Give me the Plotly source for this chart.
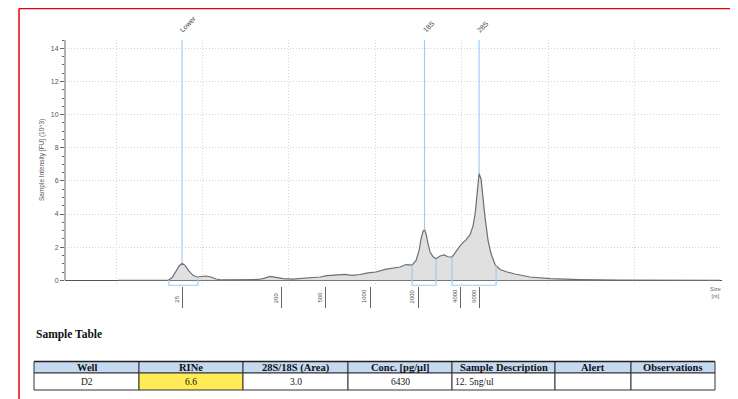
import numpy as np
import plotly.graph_objects as go

# ---------------- data ----------------
# electropherogram: migration position (arbitrary units) vs intensity (FU x 10^3)
position = [20.23, 26.02, 26.48, 26.94, 27.29, 27.64, 27.98, 28.45, 28.91, 29.37,
            29.83, 30.41, 30.99, 31.57, 32.26, 34.35, 36.43, 37.12, 37.82, 38.51,
            39.32, 40.36, 41.52, 42.68, 43.60, 44.41, 45.45, 46.50, 47.31, 48.23,
            49.16, 50.08, 51.12, 52.05, 52.86, 53.55, 54.25, 54.71, 55.06, 55.29,
            55.52, 55.69, 55.87, 56.10, 56.33, 56.68, 57.02, 57.49, 57.95, 58.41,
            58.88, 59.34, 59.92, 60.50, 60.96, 61.31, 61.54, 61.77, 62.00, 62.23,
            62.46, 62.69, 63.04, 63.39, 63.85, 64.43, 65.24, 66.16, 67.90, 70.21,
            73.69, 78.31, 89.88]
intensity = [0.0, 0.0, 0.15, 0.55, 0.85, 1.03, 0.90, 0.55, 0.30, 0.20,
             0.23, 0.26, 0.20, 0.08, 0.02, 0.02, 0.05, 0.12, 0.24, 0.18,
             0.10, 0.07, 0.12, 0.16, 0.20, 0.28, 0.30, 0.36, 0.30, 0.35,
             0.45, 0.50, 0.66, 0.75, 0.80, 0.95, 0.92, 1.20, 1.80, 2.50,
             2.95, 3.05, 2.80, 2.20, 1.70, 1.42, 1.30, 1.47, 1.53, 1.42,
             1.40, 1.75, 2.15, 2.45, 2.75, 3.30, 4.00, 5.20, 6.45, 6.10,
             4.90, 3.80, 2.40, 1.60, 0.95, 0.65, 0.50, 0.38, 0.20, 0.10,
             0.04, 0.01, 0.0]

marker_names = ["Lower", "18S", "28S"]
marker_pos = [27.64, 55.69, 62.00]
region_start = [26.13, 54.25, 58.88]
region_end = [29.49, 57.02, 63.97]

size_labels = ["25", "200", "500", "1000", "2000", "4000", "6000"]
size_pos = [27.65, 39.17, 44.18, 49.39, 54.98, 59.90, 62.10]

y_ticks = [0, 2, 4, 6, 8, 10, 12, 14]

table_columns = ["Well", "RINe", "28S/18S (Area)", "Conc. [pg/µl]",
                 "Sample Description", "Alert", "Observations"]
table_values = ["D2", "6.6", "3.0", "6430", "12. 5ng/ul", "", ""]
table_col_widths = [105, 104, 105, 104, 103, 76, 84]
table_cell_fill = ["white", "#ffeb55", "white", "white", "white", "white", "white"]
table_cell_align = ["center", "center", "center", "center", "left", "center", "center"]

# ---------------- layout geometry ----------------
# page body has an 8px margin: figure is placed at (8, 8) in the window
OFF = 8
W, H = 738 - OFF, 399 - OFF
X_RANGE = [14.1, 90.1]
Y_RANGE = [-0.35, 14.5]
px_x = lambda p: (p - OFF) / W
px_y = lambda p: 1 - (p - OFF) / H
dom_x = [px_x(65), px_x(722)]
dom_y = [px_y(286.1), px_y(40)]
bracket_y = -0.3

BLUE = "#9fcdf5"
GRAY = "#666666"
GRID = "#d4d4d4"
SANS = "Liberation Sans"
SERIF = "Liberation Serif"

fig = go.Figure()

# vertical grid overlay axis (invisible trace)
fig.add_trace(go.Scatter(x=X_RANGE, y=[0, 0], xaxis="x2", yaxis="y",
                         mode="lines", line=dict(width=0), hoverinfo="skip",
                         showlegend=False))

# profile
fig.add_trace(go.Scatter(x=position, y=intensity, mode="lines",
                         fill="tozeroy", fillcolor="#e0e0e0",
                         line=dict(color="#6f6f6f", width=1.2),
                         showlegend=False))

# marker lines and region brackets
for name, m, s, e in zip(marker_names, marker_pos, region_start, region_end):
    top = np.interp(m, position, intensity)
    fig.add_trace(go.Scatter(x=[m, m], y=[top, Y_RANGE[1]], mode="lines",
                             line=dict(color=BLUE, width=1.2), showlegend=False))
    ys = np.interp(s, position, intensity)
    ye = np.interp(e, position, intensity)
    fig.add_trace(go.Scatter(x=[s, s, e, e], y=[ys, bracket_y, bracket_y, ye],
                             mode="lines", line=dict(color=BLUE, width=1.2),
                             showlegend=False))
    fig.add_annotation(x=m, xref="x", y=px_y(36), yref="paper", text=name,
                       textangle=-45, xanchor="left", yanchor="bottom",
                       xshift=-6, showarrow=False,
                       font=dict(size=7, color="#444", family=SANS))

# size ladder labels
for lab, p in zip(size_labels, size_pos):
    fig.add_annotation(x=p, xref="x", y=px_y(305), yref="paper", text=lab,
                       textangle=-90, xanchor="right", yanchor="bottom",
                       xshift=-1, showarrow=False,
                       font=dict(size=6, color="#555", family=SANS))

fig.add_annotation(x=px_x(715), xref="paper", y=px_y(292.5), yref="paper",
                   text="Size<br>[nt]", showarrow=False, align="center",
                   xanchor="center", yanchor="middle",
                   font=dict(size=5.5, color="#666", family=SANS))

fig.add_annotation(x=px_x(42), xref="paper", y=px_y(160), yref="paper",
                   text="Sample Intensity [FU] (10^3)", textangle=-90,
                   xanchor="center", yanchor="middle", showarrow=False,
                   font=dict(size=6.5, color="#555", family=SANS))

fig.add_annotation(x=px_x(34), xref="paper", y=px_y(334), yref="paper",
                   text="<b>Sample Table</b>", xanchor="left", yanchor="middle",
                   showarrow=False,
                   font=dict(size=11.5, color="#111", family=SERIF))

# y axis line (from 0 to top)
fig.add_shape(type="line", xref="paper", yref="y", x0=dom_x[0], x1=dom_x[0],
              y0=0, y1=Y_RANGE[1], line=dict(color=GRAY, width=1))

# red frame
fig.add_shape(type="line", xref="paper", yref="paper", x0=px_x(19), x1=1,
              y0=px_y(8.5), y1=px_y(8.5), line=dict(color="#e8000b", width=1.5))
fig.add_shape(type="line", xref="paper", yref="paper", x0=px_x(19), x1=px_x(19),
              y0=px_y(8.5), y1=0, line=dict(color="#e8000b", width=1.5))

# ---------------- sample table (built from the lists above) ----------------
T_LEFT, T_TOP, T_MID, T_BOT = 34, 361.5, 373, 390
x_edges = np.concatenate([[T_LEFT], T_LEFT + np.cumsum(table_col_widths)])
for i, (col, val) in enumerate(zip(table_columns, table_values)):
    x0, x1 = px_x(x_edges[i]), px_x(x_edges[i + 1])
    # header cell
    fig.add_shape(type="rect", xref="paper", yref="paper", x0=x0, x1=x1,
                  y0=px_y(T_MID), y1=px_y(T_TOP), fillcolor="#c5d9f1",
                  line=dict(color="#333", width=1), layer="below")
    fig.add_annotation(x=(x0 + x1) / 2, y=px_y((T_TOP + T_MID) / 2 + 0.5),
                       xref="paper", yref="paper", xanchor="center",
                       yanchor="middle", text="<b>%s</b>" % col, showarrow=False,
                       font=dict(size=10.5, color="#111", family=SERIF))
    # data cell
    fig.add_shape(type="rect", xref="paper", yref="paper", x0=x0, x1=x1,
                  y0=px_y(T_BOT), y1=px_y(T_MID), fillcolor=table_cell_fill[i],
                  line=dict(color="#333", width=1), layer="below")
    if table_cell_align[i] == "left":
        xa, xx, xs = "left", x0, 1
    else:
        xa, xx, xs = "center", (x0 + x1) / 2, 0
    fig.add_annotation(x=xx, xshift=xs, xanchor=xa, y=px_y(381.5),
                       yanchor="middle", xref="paper", yref="paper", text=val,
                       showarrow=False,
                       font=dict(size=9.5, color="#111", family=SERIF))
# thicker top border
fig.add_shape(type="line", xref="paper", yref="paper", x0=px_x(x_edges[0]),
              x1=px_x(x_edges[-1]), y0=px_y(T_TOP), y1=px_y(T_TOP),
              line=dict(color="#222", width=1.6))

fig.update_layout(
    width=W, height=H, margin=dict(l=0, r=0, t=0, b=0),
    paper_bgcolor="white", plot_bgcolor="rgba(0,0,0,0)", showlegend=False,
    xaxis=dict(domain=dom_x, range=X_RANGE, showgrid=False, zeroline=False,
               showline=False, tickmode="array", tickvals=size_pos,
               ticks="outside", ticklen=21, tickwidth=1, tickcolor=GRAY,
               showticklabels=False, anchor="y"),
    xaxis2=dict(domain=dom_x, range=X_RANGE, overlaying="x", anchor="y",
                showgrid=True, gridcolor=GRID, griddash="1px,2px", gridwidth=1,
                tick0=0, dtick=10, showticklabels=False, ticks="",
                zeroline=False, showline=False),
    yaxis=dict(domain=dom_y, range=Y_RANGE, tickmode="array", tickvals=y_ticks,
               showgrid=True, gridcolor=GRID, griddash="1px,2px",
               zeroline=True, zerolinecolor="#555", zerolinewidth=1,
               showline=False, ticks="outside", ticklen=4, tickcolor=GRAY,
               tickfont=dict(size=7, color="#555", family=SANS),
               minor=dict(tickmode="array", tickvals=[v * 0.5 for v in range(0, 30)],
                          ticks="outside", ticklen=2, tickcolor=GRAY, showgrid=False)),
)

fig.write_html("out.html")
